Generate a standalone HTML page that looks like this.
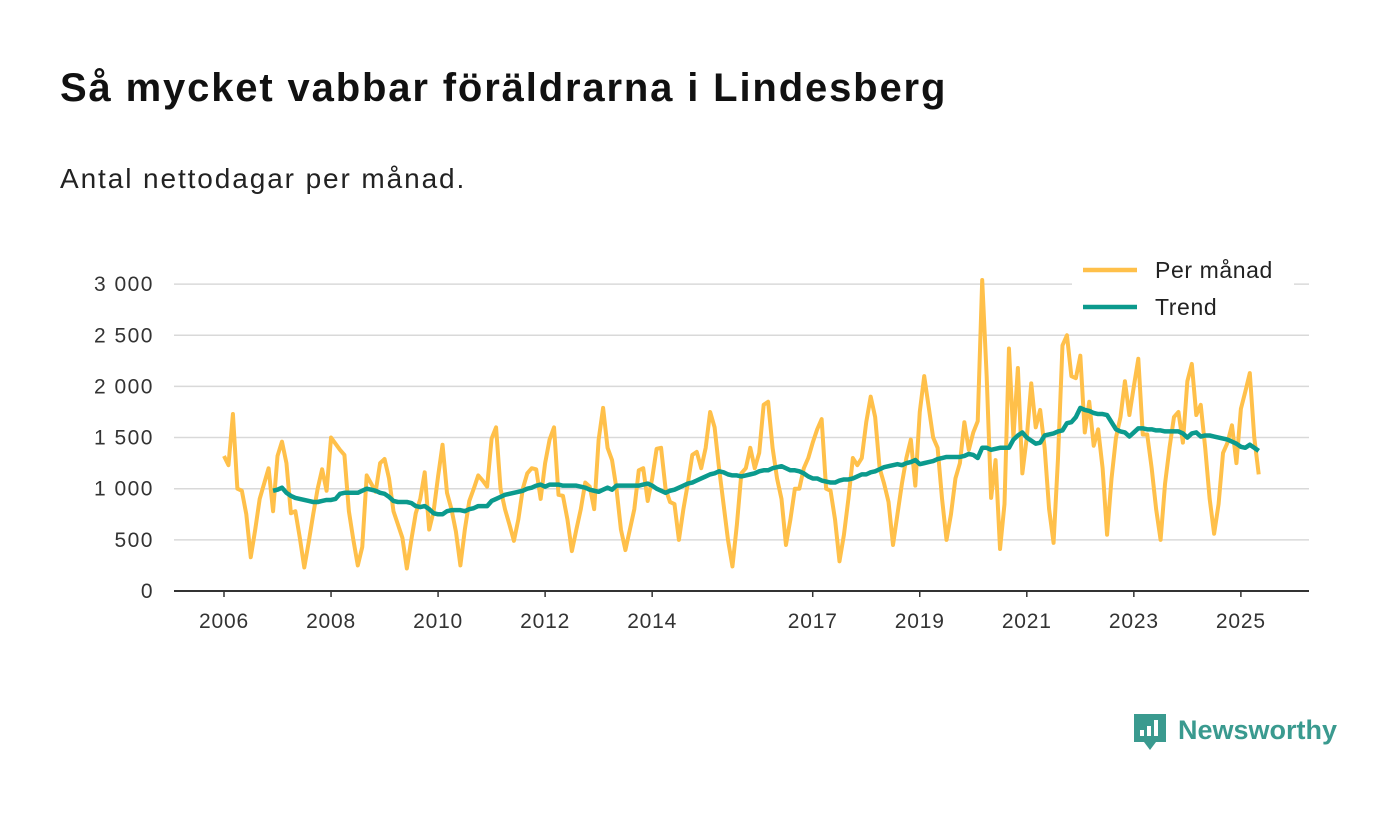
<!DOCTYPE html>
<html><head><meta charset="utf-8"><style>
body{margin:0;background:#fff;font-family:"Liberation Sans","DejaVu Sans",sans-serif;}
#wrap{position:relative;width:1400px;height:813px;overflow:hidden;}
h1{position:absolute;left:60px;top:66px;margin:0;font-size:40px;letter-spacing:1.85px;font-weight:bold;color:#111;}
.sub{position:absolute;left:60px;top:163px;font-size:28px;letter-spacing:1.9px;color:#222;}
svg text{font-family:"Liberation Sans","DejaVu Sans",sans-serif;}
</style></head><body>
<div id="wrap">
<h1>Så mycket vabbar föräldrarna i Lindesberg</h1>
<div class="sub">Antal nettodagar per månad.</div>
<svg id="chart" width="1400" height="813" style="position:absolute;left:0;top:0"></svg>
</div>
<script>
const yTicks=[0,500,1000,1500,2000,2500,3000];
const yTickLabels=["0","500","1 000","1 500","2 000","2 500","3 000"];
const xTickYears=[2006,2008,2010,2012,2014,2017,2019,2021,2023,2025];
const startYear=2006;
const perMonth=[
1320,1230,1730,1000,980,750,330,600,900,1050,1200,780,
1320,1460,1250,760,780,520,230,480,750,1000,1190,980,
1500,1440,1380,1330,780,500,250,430,1130,1050,970,1250,
1290,1100,780,650,520,220,500,760,900,1160,600,780,
1120,1430,960,800,580,250,600,880,1000,1130,1080,1020,
1490,1600,1000,800,650,490,700,1000,1150,1200,1190,900,
1250,1480,1600,940,930,700,390,600,800,1060,1020,800,
1480,1790,1400,1280,1000,600,400,600,800,1180,1200,880,
1100,1390,1400,1000,870,850,500,800,1050,1330,1360,1200,
1400,1750,1600,1200,850,500,240,650,1150,1200,1400,1200,
1350,1820,1850,1400,1100,900,450,700,1000,1000,1200,1300,
1450,1580,1680,1000,980,700,290,550,900,1300,1230,1300,
1650,1900,1700,1200,1050,870,450,750,1050,1300,1480,1030,
1750,2100,1800,1500,1400,900,500,750,1100,1250,1650,1380,
1550,1660,3040,2100,910,1280,410,850,2370,1500,2180,1150,
1500,2030,1600,1770,1400,800,470,1300,2400,2500,2100,2080,
2300,1550,1850,1420,1580,1200,550,1100,1500,1700,2050,1720,
2000,2270,1530,1530,1200,800,500,1050,1400,1700,1750,1450,
2050,2220,1720,1820,1400,900,560,850,1350,1450,1620,1250,
1780,1950,2130,1500,1140];
const trendStart=11;
const trend=[980,
990,1010,960,930,910,900,890,880,870,870,880,890,
890,900,950,960,960,960,960,980,1000,990,980,960,
950,920,880,870,870,870,860,830,820,830,800,760,
750,750,780,790,790,790,780,800,810,830,830,830,
880,900,920,940,950,960,970,980,1000,1010,1030,1040,
1020,1040,1040,1040,1030,1030,1030,1030,1020,1010,990,980,
970,990,1010,990,1030,1030,1030,1030,1030,1030,1040,1050,
1030,1000,980,960,980,990,1010,1030,1050,1060,1080,1100,
1120,1140,1150,1170,1160,1140,1130,1130,1120,1130,1140,1150,
1170,1180,1180,1200,1210,1220,1200,1180,1180,1170,1150,1120,
1100,1100,1080,1070,1060,1060,1080,1090,1090,1100,1120,1140,
1140,1160,1170,1190,1210,1220,1230,1240,1230,1250,1260,1280,
1240,1250,1260,1270,1290,1300,1310,1310,1310,1310,1320,1340,
1330,1300,1400,1400,1380,1390,1400,1400,1400,1480,1520,1550,
1500,1470,1440,1450,1520,1530,1540,1560,1570,1640,1650,1700,
1790,1770,1760,1740,1730,1730,1720,1650,1580,1560,1550,1510,
1550,1590,1590,1580,1580,1570,1570,1560,1560,1560,1560,1540,
1500,1540,1550,1510,1520,1520,1510,1500,1490,1480,1460,1440,
1410,1400,1430,1400,1370];

const NS='http://www.w3.org/2000/svg';
const svg=document.getElementById('chart');
const X0=224, PXM=4.46, Y0=591, PXV=0.1023;
function xScale(i){return X0+i*PXM;}
function yScale(v){return Y0-v*PXV;}
function mk(tag,attrs){const e=document.createElementNS(NS,tag);for(const k in attrs)e.setAttribute(k,attrs[k]);svg.appendChild(e);return e;}

yTicks.forEach((t,i)=>{
  if(t>0){const g=mk('line',{x1:174,x2:1309,y1:yScale(t),y2:yScale(t),stroke:'#d9d9d9','stroke-width':1.5});
  
  }
  const tx=mk('text',{x:154,y:yScale(t)+7,'text-anchor':'end','font-size':21,'letter-spacing':1.5,fill:'#333'});
  tx.textContent=yTickLabels[i];
  
  
});
const ax=mk('line',{x1:174,x2:1309,y1:Y0,y2:Y0,stroke:'#333','stroke-width':2});


xTickYears.forEach(yr=>{
  const x=xScale((yr-startYear)*12);
  const tk=mk('line',{x1:x,x2:x,y1:Y0,y2:Y0+6,stroke:'#333','stroke-width':1.5});
  
  
  const tx=mk('text',{x:x,y:628,'text-anchor':'middle','font-size':21,'letter-spacing':0.8,fill:'#333'});
  tx.textContent=yr;
  
  
});
const pm=mk('polyline',{points:perMonth.map((v,i)=>xScale(i)+','+yScale(v)).join(' '),fill:'none',stroke:'#ffc04a','stroke-width':4,'stroke-linejoin':'round'});


const tr=mk('polyline',{points:trend.map((v,i)=>xScale(i+trendStart)+','+yScale(v)).join(' '),fill:'none',stroke:'#0b9a8d','stroke-width':4.5,'stroke-linejoin':'round'});


const lb=mk('rect',{x:1072,y:252,width:222,height:76,fill:'#fff'});


[['Per månad','#ffc04a',270],['Trend','#0b9a8d',307]].forEach(([n,c,y])=>{
  const l=mk('line',{x1:1083,x2:1137,y1:y,y2:y,stroke:c,'stroke-width':4.5});
  
  
  const t=mk('text',{x:1155,y:y+8,'font-size':23,'letter-spacing':0.6,fill:'#222'});
  t.textContent=n;
  
  
});
const lg=mk('g',{});


const ic=mk('path',{d:'M1134 714 h32 v28 h-10 l-6 8 l-6 -8 h-10 z',fill:'#3a9a8f'});


[[1140,730,6],[1147,726,10],[1154,720,16]].forEach(([x,y,h])=>{const b=mk('rect',{x:x,y:y,width:4,height:h,fill:'#fff'});

});
const lt=mk('text',{x:1178,y:739,'font-size':27,'font-weight':'bold',fill:'#3a9a8f'});
lt.textContent='Newsworthy';


</script>
</body></html>
